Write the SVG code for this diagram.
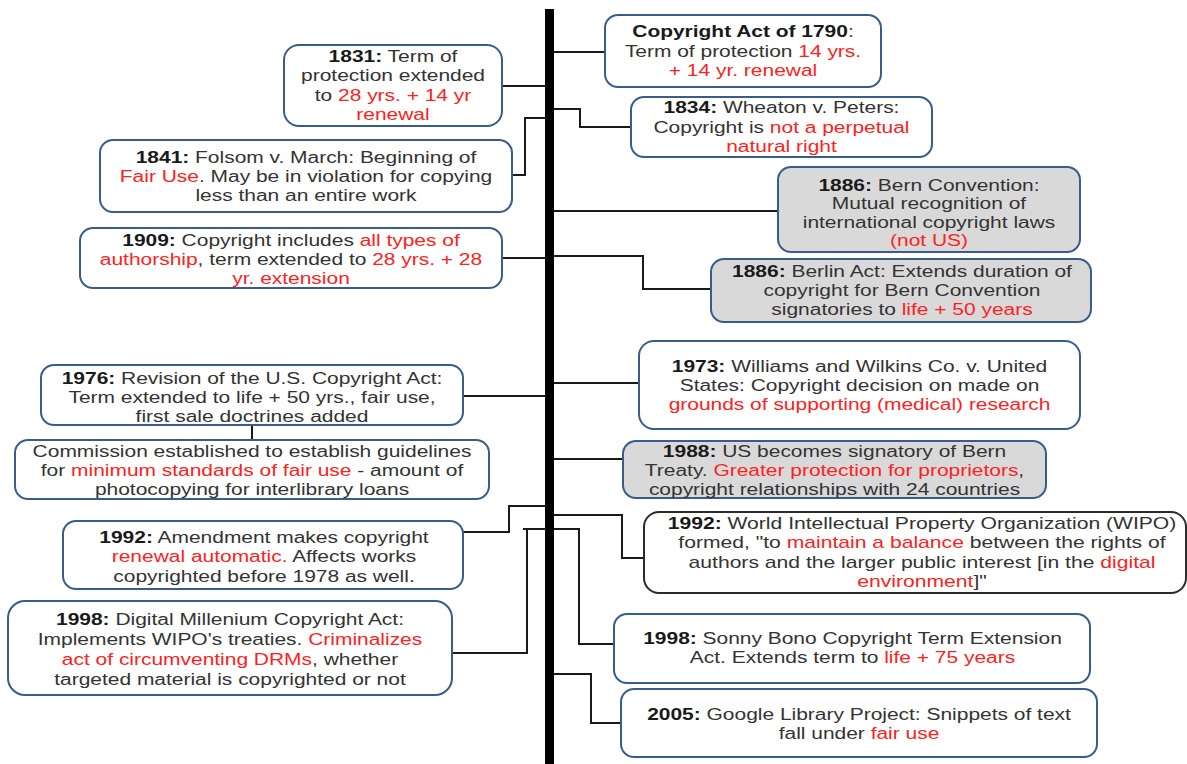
<svg xmlns="http://www.w3.org/2000/svg" width="1187" height="764" viewBox="0 0 1187 764">
<style>
.box{fill:#fff;stroke:#385d8a;stroke-width:2}
.grey{fill:#d9d9d9}
.dark{stroke:#2b2b2b}
.conn{fill:none;stroke:#1a1a1a;stroke-width:2}
text{font-family:"Liberation Sans",Arial,sans-serif;font-size:16px;fill:#333;text-anchor:middle}
.b{font-weight:bold;fill:#1a1a1a}
.r{fill:#f22}
</style>
<rect width="1187" height="764" fill="#fff"/>
<g id="connectors">
<rect x="545" y="9" width="9" height="755" fill="#000"/>
<path class="conn" d="M554 52H605"/>
<path class="conn" d="M502 86H546"/>
<path class="conn" d="M554 109H580V127H631"/>
<path class="conn" d="M546 118H525V175H512"/>
<path class="conn" d="M554 211H778"/>
<path class="conn" d="M502 258H546"/>
<path class="conn" d="M554 256H643V289H711"/>
<path class="conn" d="M554 383H639"/>
<path class="conn" d="M463 396H546"/>
<path class="conn" d="M554 459H623"/>
<path class="conn" d="M252 425V440"/>
<path class="conn" d="M463 532H509V506H546"/>
<path class="conn" d="M546 529H523M527 529V653H452"/>
<path class="conn" d="M554 515H622V558H644"/>
<path class="conn" d="M554 529H579V644H614"/>
<path class="conn" d="M554 674H591V723H621"/>
</g>
<g id="n1790">
<rect class="box" x="605" y="15" width="276" height="72" rx="13"/>
<text transform="translate(743 0) scale(1.31 1)"><tspan x="0" y="37.5"><tspan class="b">Copyright Act of 1790</tspan>:</tspan><tspan x="0" y="57">Term of protection <tspan class="r">14 yrs.</tspan></tspan><tspan x="0" y="76.5" class="r">+ 14 yr. renewal</tspan></text>
</g>
<g id="n1834">
<rect class="box" x="631" y="97" width="301" height="60" rx="13"/>
<text transform="translate(781.5 0) scale(1.31 1)"><tspan x="0" y="113.5"><tspan class="b">1834:</tspan> Wheaton v. Peters:</tspan><tspan x="0" y="133">Copyright is <tspan class="r">not a perpetual</tspan></tspan><tspan x="0" y="152.5" class="r">natural right</tspan></text>
</g>
<g id="n1886bern">
<rect class="box grey" x="778" y="167" width="302" height="85" rx="13"/>
<text transform="translate(929 0) scale(1.31 1)"><tspan x="0" y="191"><tspan class="b">1886:</tspan> Bern Convention:</tspan><tspan x="0" y="209.5">Mutual recognition of</tspan><tspan x="0" y="228">international copyright laws</tspan><tspan x="0" y="246.5" class="r">(not US)</tspan></text>
</g>
<g id="n1886berlin">
<rect class="box grey" x="711" y="259" width="380" height="63" rx="13"/>
<text transform="translate(902 0) scale(1.31 1)"><tspan x="0" y="277"><tspan class="b">1886:</tspan> Berlin Act: Extends duration of</tspan><tspan x="0" y="296">copyright for Bern Convention</tspan><tspan x="0" y="315">signatories to <tspan class="r">life + 50 years</tspan></tspan></text>
</g>
<g id="n1973">
<rect class="box" x="639" y="341" width="441" height="88" rx="15"/>
<text transform="translate(859.5 0) scale(1.31 1)"><tspan x="0" y="372"><tspan class="b">1973:</tspan> Williams and Wilkins Co. v. United</tspan><tspan x="0" y="391">States: Copyright decision on made on</tspan><tspan x="0" y="410" class="r">grounds of supporting (medical) research</tspan></text>
</g>
<g id="n1988">
<rect class="box grey" x="623" y="441" width="423" height="57" rx="13"/>
<text transform="translate(834.5 0) scale(1.31 1)"><tspan x="0" y="457"><tspan class="b">1988:</tspan> US becomes signatory of Bern</tspan><tspan x="0" y="476">Treaty. <tspan class="r">Greater protection for proprietors</tspan>,</tspan><tspan x="0" y="495">copyright relationships with 24 countries</tspan></text>
</g>
<g id="n1992wipo">
<rect class="box dark" x="644" y="512" width="542" height="81" rx="15"/>
<text transform="translate(922 0) scale(1.32 1)"><tspan x="0" y="529"><tspan class="b">1992:</tspan> World Intellectual Property Organization (WIPO)</tspan><tspan x="0" y="548.5">formed, "to <tspan class="r">maintain a balance</tspan> between the rights of</tspan><tspan x="0" y="568">authors and the larger public interest [in the <tspan class="r">digital</tspan></tspan><tspan x="0" y="587.5"><tspan class="r">environment</tspan>]"</tspan></text>
</g>
<g id="n1998sonny">
<rect class="box" x="614" y="614" width="476" height="69" rx="13"/>
<text transform="translate(852.5 0) scale(1.31 1)"><tspan x="0" y="644"><tspan class="b">1998:</tspan> Sonny Bono Copyright Term Extension</tspan><tspan x="0" y="663.5">Act. Extends term to <tspan class="r">life + 75 years</tspan></tspan></text>
</g>
<g id="n2005">
<rect class="box" x="621" y="689" width="476" height="68" rx="13"/>
<text transform="translate(859 0) scale(1.31 1)"><tspan x="0" y="720"><tspan class="b">2005:</tspan> Google Library Project: Snippets of text</tspan><tspan x="0" y="739">fall under <tspan class="r">fair use</tspan></tspan></text>
</g>
<g id="n1831">
<rect class="box" x="284" y="45" width="218" height="81" rx="15"/>
<text transform="translate(393 0) scale(1.31 1)"><tspan x="0" y="62"><tspan class="b">1831:</tspan> Term of</tspan><tspan x="0" y="81.5">protection extended</tspan><tspan x="0" y="101">to <tspan class="r">28 yrs. + 14 yr</tspan></tspan><tspan x="0" y="120.5" class="r">renewal</tspan></text>
</g>
<g id="n1841">
<rect class="box" x="100" y="140" width="412" height="72" rx="13"/>
<text transform="translate(306 0) scale(1.31 1)"><tspan x="0" y="163"><tspan class="b">1841:</tspan> Folsom v. March: Beginning of</tspan><tspan x="0" y="182"><tspan class="r">Fair Use</tspan>. May be in violation for copying</tspan><tspan x="0" y="201">less than an entire work</tspan></text>
</g>
<g id="n1909">
<rect class="box" x="80" y="228" width="422" height="60" rx="13"/>
<text transform="translate(291 0) scale(1.31 1)"><tspan x="0" y="246"><tspan class="b">1909:</tspan> Copyright includes <tspan class="r">all types of</tspan></tspan><tspan x="0" y="265"><tspan class="r">authorship</tspan>, term extended to <tspan class="r">28 yrs. + 28</tspan></tspan><tspan x="0" y="284" class="r">yr. extension</tspan></text>
</g>
<g id="n1976">
<rect class="box" x="41" y="365" width="422" height="60" rx="13"/>
<text transform="translate(252 0) scale(1.31 1)"><tspan x="0" y="384"><tspan class="b">1976:</tspan> Revision of the U.S. Copyright Act:</tspan><tspan x="0" y="403">Term extended to life + 50 yrs., fair use,</tspan><tspan x="0" y="422">first sale doctrines added</tspan></text>
</g>
<g id="ncommission">
<rect class="box" x="15" y="440" width="474" height="59" rx="13"/>
<text transform="translate(252 0) scale(1.31 1)"><tspan x="0" y="457">Commission established to establish guidelines</tspan><tspan x="0" y="476">for <tspan class="r">minimum standards of fair use</tspan> - amount of</tspan><tspan x="0" y="495">photocopying for interlibrary loans</tspan></text>
</g>
<g id="n1992amend">
<rect class="box" x="63" y="521" width="400" height="68" rx="13"/>
<text transform="translate(264 0) scale(1.31 1)"><tspan x="0" y="543"><tspan class="b">1992:</tspan> Amendment makes copyright</tspan><tspan x="0" y="562"><tspan class="r">renewal automatic.</tspan> Affects works</tspan><tspan x="0" y="582">copyrighted before 1978 as well.</tspan></text>
</g>
<g id="n1998dmca">
<rect class="box" x="8" y="601" width="444" height="94" rx="17"/>
<text transform="translate(230 0) scale(1.31 1)"><tspan x="0" y="625"><tspan class="b">1998:</tspan> Digital Millenium Copyright Act:</tspan><tspan x="0" y="645">Implements WIPO's treaties. <tspan class="r">Criminalizes</tspan></tspan><tspan x="0" y="665"><tspan class="r">act of circumventing DRMs</tspan>, whether</tspan><tspan x="0" y="685">targeted material is copyrighted or not</tspan></text>
</g>
</svg>
